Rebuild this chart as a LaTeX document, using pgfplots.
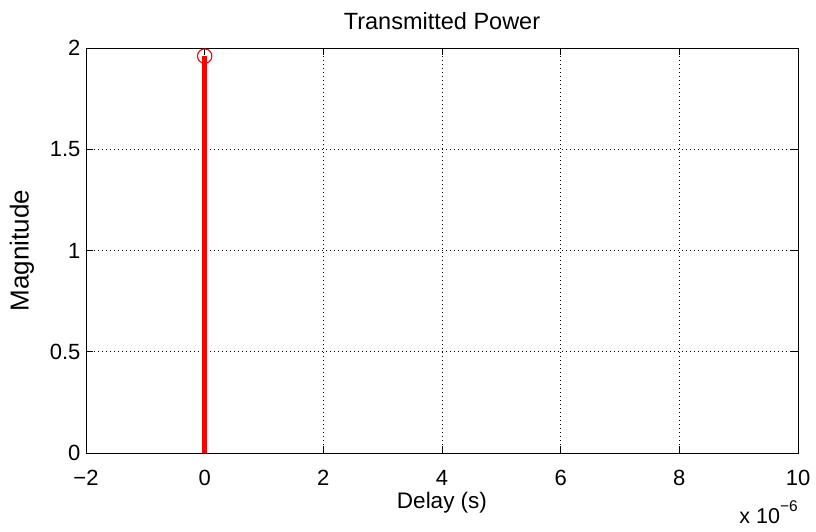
\documentclass[border=0pt]{standalone}
\usepackage{fontspec}
\setmainfont{Liberation Sans}
\usepackage{pgfplots}
\pgfplotsset{compat=1.18}
\begin{document}
\begin{tikzpicture}
\useasboundingbox (-86pt,-78pt) rectangle (730pt,453pt);
\begin{axis}[
  at={(0,0)}, anchor=south west,
  scale only axis, width=712pt, height=405pt,
  xmin=-2, xmax=10, ymin=0, ymax=2,
  xtick={-2,0,2,4,6,8,10},
  xticklabels={−2,0,2,4,6,8,10},
  ytick={0,0.5,1,1.5,2},
  yticklabels={0,0.5,1,1.5,2},
  tick align=inside,
  major tick length=7pt,
  tick style={black, line width=0.6pt},
  axis line style={black, line width=0.8pt},
  grid=major,
  grid style={black, line width=0.7pt, dash pattern=on 0.7pt off 3.3pt},
  ticklabel style={font=\fontsize{22}{26}\selectfont},
  xticklabel style={yshift=-17pt, inner sep=0pt},
  yticklabel style={xshift=-2pt},
  every axis title/.style={at={(axis description cs:0.5,1.0667)}, anchor=center, font=\fontsize{23.5}{27}\selectfont},
  every axis x label/.style={at={(axis description cs:0.5,-0.1235)}, anchor=center, inner sep=0pt, font=\fontsize{22.5}{26}\selectfont},
  every axis y label/.style={at={(axis description cs:-0.0899,0.5)}, anchor=center, rotate=90, font=\fontsize{26}{30}\selectfont},
  title={Transmitted Power},
  xlabel={Delay (s)},
  ylabel={Magnitude},
  clip=false,
]
\addplot[ycomb, red, line width=5pt, mark=o, mark size=7.2pt,
  mark options={line width=1.1pt, red, fill=none}] coordinates {(0,1.96)};
\node[anchor=base east, font=\fontsize{21.5}{25}\selectfont, inner sep=0pt] at (rel axis cs:1,0) [yshift=-70pt] {x 10\raisebox{12pt}{\fontsize{15.5}{17}\selectfont −6}};
\end{axis}
\end{tikzpicture}
\end{document}
